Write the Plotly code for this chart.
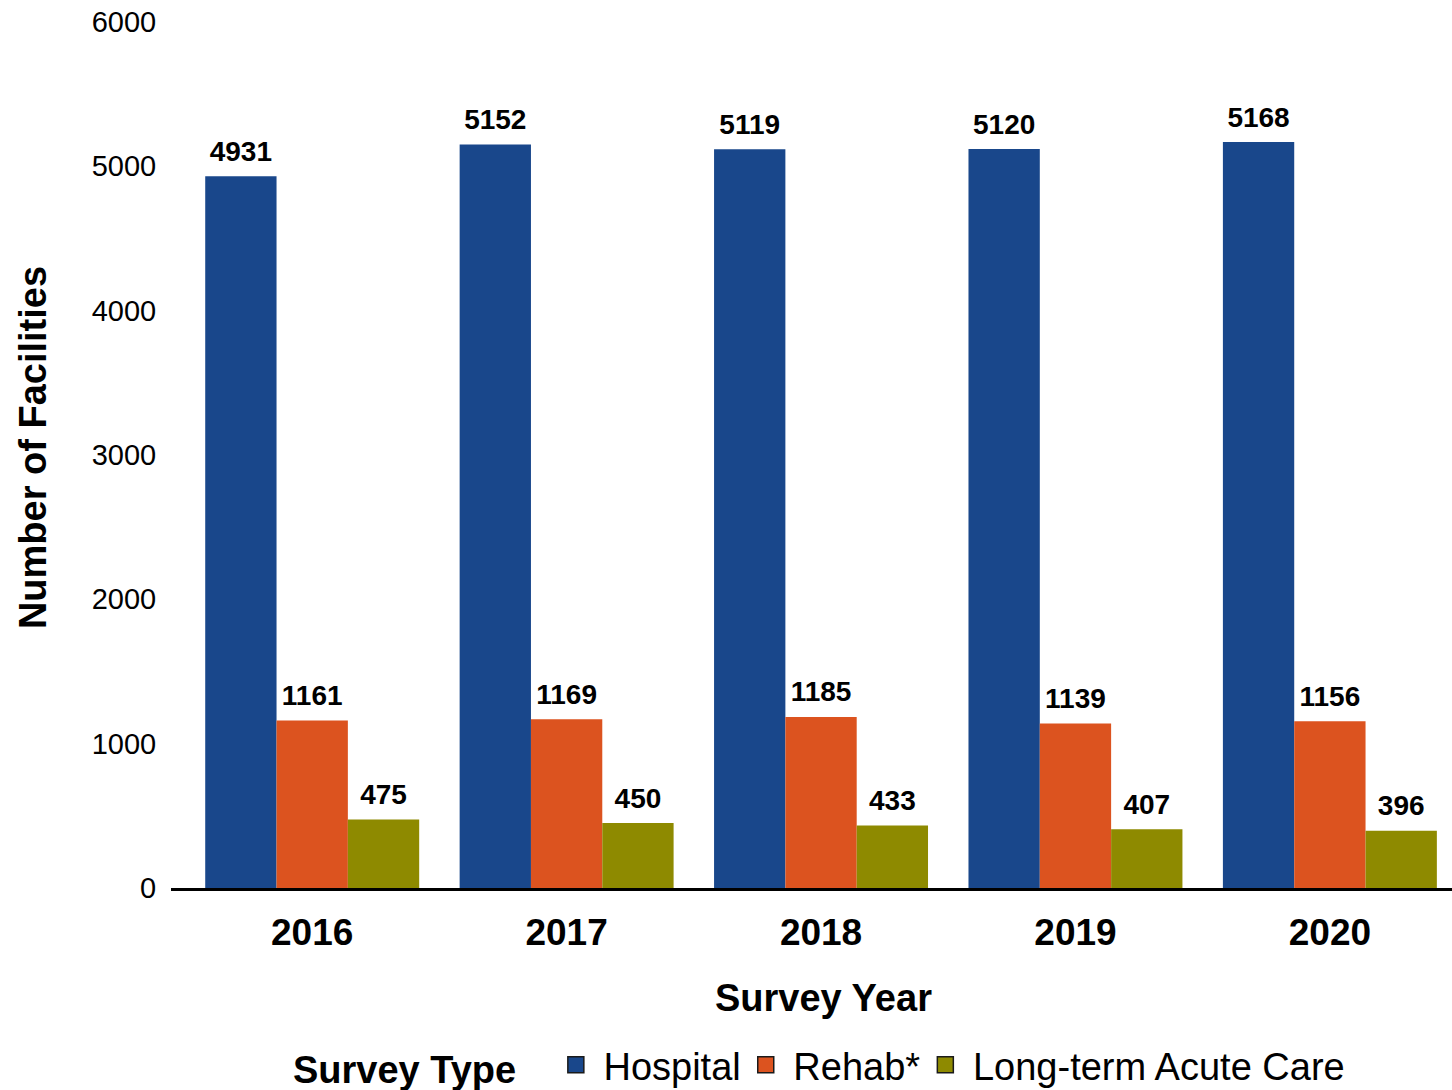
import plotly.graph_objects as go

# Survey years and facility counts per survey type
years = ["2016", "2017", "2018", "2019", "2020"]
hospital = [4931, 5152, 5119, 5120, 5168]
rehab = [1161, 1169, 1185, 1139, 1156]
ltac = [475, 450, 433, 407, 396]

series_names = ["Hospital", "Rehab*", "Long-term Acute Care"]
series_colors = ["#19478b", "#dc531f", "#8e8a00"]
y_ticks = [0, 1000, 2000, 3000, 4000, 5000, 6000]

FONT = "Liberation Sans, Arial, sans-serif"
BARGAP = 0.159

fig = go.Figure()
series = [hospital, rehab, ltac]

# Bars
for i, (name, vals, color) in enumerate(zip(series_names, series, series_colors)):
    fig.add_trace(go.Bar(
        name=name,
        x=years,
        y=vals,
        offsetgroup=str(i),
        alignmentgroup="g",
        marker=dict(color=color, line=dict(width=0)),
        showlegend=False,
        hoverinfo="x+y+name",
    ))

# Value labels above each bar (grouped like the bars; invisible markers set the gap)
for i, (name, vals) in enumerate(zip(series_names, series)):
    fig.add_trace(go.Scatter(
        x=years,
        y=vals,
        mode="markers+text",
        offsetgroup=str(i),
        alignmentgroup="g",
        marker=dict(size=12, opacity=0),
        text=[str(v) for v in vals],
        textposition="top center",
        textfont=dict(family=FONT, size=28, color="black", weight="bold"),
        cliponaxis=False,
        showlegend=False,
        hoverinfo="skip",
    ))

# Legend entries
for i, (name, color) in enumerate(zip(series_names, series_colors)):
    fig.add_trace(go.Scatter(
        x=[None],
        y=[None],
        mode="markers",
        name="\u2009" + name,
        offsetgroup=str(i),
        alignmentgroup="g",
        marker=dict(symbol="square", size=16, color=color, line=dict(color="#1a1a1a", width=1.5)),
        showlegend=True,
    ))

fig.update_layout(
    width=1452,
    height=1090,
    margin=dict(l=171, r=0, t=22, b=202, autoexpand=False),
    paper_bgcolor="white",
    plot_bgcolor="white",
    barmode="group",
    bargap=BARGAP,
    bargroupgap=0,
    scattermode="group",
    scattergap=BARGAP,
    font=dict(family=FONT, color="black"),
    showlegend=True,
    legend=dict(
        orientation="h",
        x=0.507,
        xanchor="center",
        y=-0.168,
        yanchor="top",
        itemsizing="trace",
        font=dict(family=FONT, size=38, color="black"),
        title=dict(text="<b>Survey Type</b>\u00a0\u00a0\u00a0", font=dict(family=FONT, size=38, color="black"), side="left"),
        bgcolor="rgba(0,0,0,0)",
    ),
    xaxis=dict(
        type="category",
        range=[-0.555, 4.48],
        showline=True,
        linecolor="black",
        linewidth=2.5,
        ticks="outside",
        ticklen=10,
        tickcolor="rgba(0,0,0,0)",
        tickfont=dict(family=FONT, size=37, color="black", weight="bold"),
        showgrid=False,
        zeroline=False,
    ),
    yaxis=dict(
        range=[0, 6000],
        tickvals=y_ticks,
        ticktext=[str(t) for t in y_ticks],
        ticks="outside",
        ticklen=8,
        tickcolor="rgba(0,0,0,0)",
        tickfont=dict(family=FONT, size=29, color="black"),
        showgrid=False,
        zeroline=False,
        showline=False,
    ),
    annotations=[
        dict(text="<b>Survey Year</b>", xref="paper", yref="paper",
             x=0.509, y=-0.127, xanchor="center", yanchor="middle",
             showarrow=False, font=dict(family=FONT, size=38, color="black")),
        dict(text="<b>Number of Facilities</b>", xref="paper", yref="paper",
             x=-0.1077, y=0.508, xanchor="center", yanchor="middle", textangle=-90,
             showarrow=False, font=dict(family=FONT, size=38, color="black")),
    ],
)

fig.write_html("out.html")
